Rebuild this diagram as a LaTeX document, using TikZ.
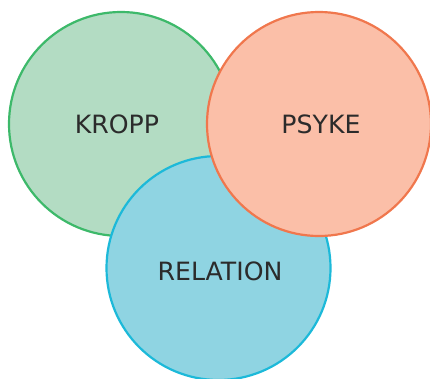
\documentclass[tikz,border=0pt]{standalone}
\usepackage{fontspec}
\setmainfont{DejaVu Sans}
\definecolor{gfill}{HTML}{B3DCC3}
\definecolor{gline}{HTML}{3DB96A}
\definecolor{ofill}{HTML}{FBBFA8}
\definecolor{oline}{HTML}{F0774D}
\definecolor{bfill}{HTML}{8FD4E2}
\definecolor{bline}{HTML}{1CB9D9}
\definecolor{txt}{HTML}{2B2B2B}
\tikzset{circ/.style={circle,minimum size=224pt,inner sep=0pt,line width=2.2pt},
lab/.style={text=txt,font=\fontsize{25.2}{28}\selectfont}}
\begin{document}
\begin{tikzpicture}[x=1pt,y=-1pt]
\useasboundingbox (0,0) rectangle (430,378);
\node[circ,draw=gline,fill=gfill] (kropp) at (121,124) {};
\node[circ,draw=bline,fill=bfill] (relation) at (218.5,268) {};
\node[circ,draw=oline,fill=ofill] (psyke) at (319,124) {};
\node[lab] (tk) at (117,124.5) {KROPP};
\node[lab] (tp) at (321,124) {PSYKE};
\node[lab] (tr) at (220,271.5) {RELATION};
\end{tikzpicture}
\end{document}
